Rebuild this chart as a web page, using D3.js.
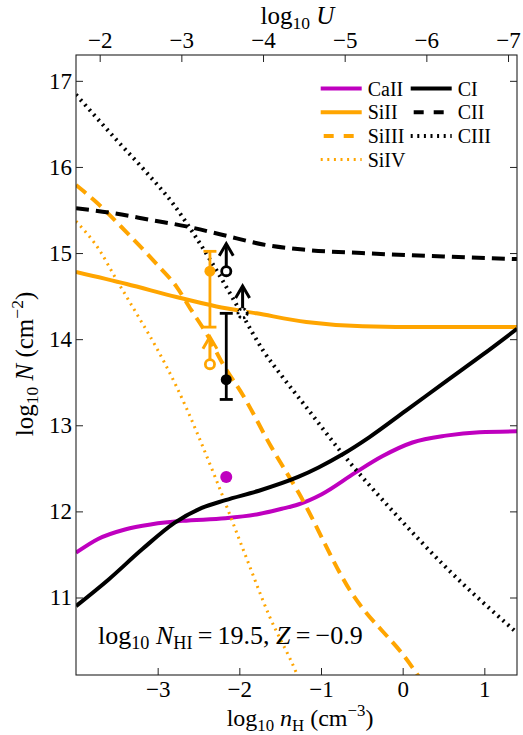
<!DOCTYPE html>
<html>
<head>
<meta charset="utf-8">
<script src="https://cdn.jsdelivr.net/npm/d3@7.9.0/dist/d3.min.js"></script>
<style>
  body { margin: 0; background: #fff; }
  svg text { font-family: "Liberation Serif", "DejaVu Serif", serif; fill: #000; white-space: pre; }
</style>
</head>
<body>
<svg id="chart" width="523" height="735"></svg>
<script>
// model columns, [log10 nH, log10 N]
const caII = [[-4.0, 11.52], [-3.73, 11.68], [-3.40, 11.79], [-3.07, 11.85], [-2.70, 11.89], [-2.17, 11.92],
  [-1.76, 11.97], [-1.48, 12.03], [-1.28, 12.08], [-0.99, 12.20], [-0.58, 12.45], [-0.25, 12.64],
  [0.12, 12.80], [0.53, 12.88], [0.94, 12.92], [1.4, 12.93]];
const siII = [[-4.0, 14.78], [-3.38, 14.64], [-2.77, 14.49], [-2.28, 14.38], [-1.79, 14.30], [-1.18, 14.20],
  [-0.49, 14.15], [0.32, 14.14], [1.4, 14.14]];
const siIII = [[-4.0, 15.79], [-3.75, 15.59], [-3.38, 15.24], [-3.02, 14.88], [-2.77, 14.61], [-2.59, 14.34],
  [-2.40, 14.06], [-2.20, 13.71], [-1.95, 13.34], [-1.61, 12.75], [-1.27, 12.21], [-0.65, 11.09],
  [0.08, 10.24], [0.22, 10.05]];
const siIV = [[-4.0, 15.37], [-3.71, 15.03], [-3.51, 14.70], [-3.26, 14.30], [-3.02, 13.91], [-2.77, 13.45],
  [-2.28, 12.36], [-1.95, 11.55], [-1.63, 10.78], [-1.30, 10.12], [-1.27, 10.05]];
const cI = [[-4.0, 10.90], [-3.60, 11.21], [-3.19, 11.56], [-2.79, 11.87], [-2.46, 12.04], [-2.17, 12.13],
  [-1.76, 12.24], [-1.28, 12.40], [-1.03, 12.51], [-0.74, 12.66], [-0.41, 12.86], [0.04, 13.17],
  [0.53, 13.51], [0.98, 13.82], [1.4, 14.12]];
const cII = [[-4.0, 15.52], [-3.59, 15.47], [-3.06, 15.38], [-2.65, 15.31], [-2.20, 15.21], [-1.71, 15.10],
  [-1.22, 15.04], [-0.5, 15.00], [0.5, 14.96], [1.4, 14.93]];
const cIII = [[-4.0, 16.84], [-3.50, 16.31], [-3.16, 15.96], [-2.81, 15.57], [-2.57, 15.24], [-2.28, 14.80],
  [-1.95, 14.26], [-1.71, 13.87], [-1.47, 13.56], [-1.18, 13.21], [-0.78, 12.72], [-0.09, 11.97],
  [0.53, 11.35], [1.4, 10.59]];

// legend columns
const legendCol1 = ['CaII', 'SiII', 'SiIII', 'SiIV'];
const legendCol2 = ['CI', 'CII', 'CIII'];

// measured columns (filled markers)
const detIon = ['SiII', 'CI', 'CaII'];
const detNH = [-2.36, -2.16, -2.16];
const detN = [14.79, 13.53, 12.40];
const detLo = [14.14, 13.30, null];
const detHi = [15.02, 14.30, null];

// lower limits (open markers + arrows)
const limIon = ['SiIII', 'CII', 'CIII'];
const limNH = [-2.36, -2.16, -1.96];
const limN = [13.71, 14.79, 14.30];

const xTicks = [-3, -2, -1, 0, 1];
const uTicks = [-2, -3, -4, -5, -6, -7];
const yTicks = [11, 12, 13, 14, 15, 16, 17];

const curves = { CaII: caII, SiII: siII, SiIII: siIII, SiIV: siIV, CI: cI, CII: cII, CIII: cIII };

const MAG = '#bf00bf', ORA = '#ffa500';
const ionStyle = {
  CaII: { color: MAG, dash: null, width: 4 },
  SiII: { color: ORA, dash: null, width: 4 },
  SiIII: { color: ORA, dash: '13,7', width: 4 },
  SiIV: { color: ORA, dash: '2,4.6', width: 3 },
  CI: { color: '#000', dash: null, width: 4 },
  CII: { color: '#000', dash: '13,7', width: 4 },
  CIII: { color: '#000', dash: '2,4.6', width: 4 },
};

const margin = { top: 55, right: 6, bottom: 60, left: 76 };
const W = 523 - margin.left - margin.right;  // 441
const H = 735 - margin.top - margin.bottom;  // 620

const svg = d3.select('#chart');
const g = svg.append('g').attr('transform', `translate(${margin.left},${margin.top})`);

const x = d3.scaleLinear().domain([-4, 1.4]).range([0, W]);
const xU = d3.scaleLinear().domain([-1.71, -7.11]).range([0, W]); // log U = -log nH - 5.71
const y = d3.scaleLinear().domain([10.1, 17.3]).range([H, 0]);

g.append('clipPath').attr('id', 'plotclip')
  .append('rect').attr('width', W).attr('height', H);

// curves
const line = d3.line().x(d => x(d[0])).y(d => y(d[1])).curve(d3.curveMonotoneX);
const curveG = g.append('g').attr('clip-path', 'url(#plotclip)');
Object.keys(curves).forEach(ion => {
  const s = ionStyle[ion];
  curveG.append('path')
    .datum(curves[ion])
    .attr('d', line)
    .attr('fill', 'none')
    .attr('stroke', s.color)
    .attr('stroke-width', s.width)
    .attr('stroke-dasharray', s.dash);
});

// detections with error bars
const capW = 6.5;
detIon.forEach((ion, i) => {
  const c = ionStyle[ion].color;
  const cx = x(detNH[i]);
  if (detLo[i] != null) {
    g.append('line').attr('x1', cx).attr('x2', cx)
      .attr('y1', y(detLo[i])).attr('y2', y(detHi[i]))
      .attr('stroke', c).attr('stroke-width', 2.8);
    [detLo[i], detHi[i]].forEach(v => {
      g.append('line').attr('x1', cx - capW).attr('x2', cx + capW)
        .attr('y1', y(v)).attr('y2', y(v))
        .attr('stroke', c).attr('stroke-width', 2.8);
    });
  }
  g.append('circle').attr('cx', cx).attr('cy', y(detN[i])).attr('r', ion === 'CaII' ? 6 : 5.5).attr('fill', c);
});

// lower limits
const arrowLen = 0.33;
limIon.forEach((ion, i) => {
  const c = ionStyle[ion].color;
  const cx = x(limNH[i]);
  const cy = y(limN[i]);
  const tip = y(limN[i] + arrowLen);
  g.append('line').attr('x1', cx).attr('x2', cx).attr('y1', cy - 5).attr('y2', tip + 1.5)
    .attr('stroke', c).attr('stroke-width', 3);
  g.append('path')
    .attr('d', `M${cx - 7},${tip + 13}L${cx},${tip + 1}L${cx + 7},${tip + 13}`)
    .attr('fill', 'none').attr('stroke', c).attr('stroke-width', 3)
    .attr('stroke-linejoin', 'miter');
  g.append('circle').attr('cx', cx).attr('cy', cy).attr('r', 4.6)
    .attr('fill', '#fff').attr('stroke', c).attr('stroke-width', 2.8)
    .attr('stroke-dasharray', ion === 'CIII' ? '2.2,2.2' : null);
});

// axes
const tickFont = 23;
const fmt = d3.format('d');

const axB = g.append('g').attr('transform', `translate(0,${H})`)
  .call(d3.axisBottom(x).tickValues(xTicks).tickSize(-7).tickPadding(6).tickFormat(fmt));
const axT = g.append('g')
  .call(d3.axisTop(xU).tickValues(uTicks).tickSize(-7).tickPadding(7).tickFormat(fmt));
const axL = g.append('g')
  .call(d3.axisLeft(y).tickValues(yTicks).tickSize(-7).tickPadding(4).tickFormat(fmt));
const axR = g.append('g').attr('transform', `translate(${W},0)`)
  .call(d3.axisRight(y).tickValues(yTicks).tickSize(-7).tickFormat(''));

[axB, axT, axL, axR].forEach(a => {
  a.select('.domain').remove();
  a.selectAll('.tick line').attr('stroke', '#222').attr('stroke-width', 1);
  a.selectAll('.tick text').attr('font-size', tickFont)
    .attr('font-family', '"Liberation Serif", serif').attr('fill', '#000');
});

g.append('rect').attr('width', W).attr('height', H)
  .attr('fill', 'none').attr('stroke', '#222').attr('stroke-width', 1.1);

// text helper for sub/superscripts
function rich(sel, parts, size) {
  let shift = 0;
  parts.forEach(p => {
    const target = p.sub ? size * 0.2 : p.sup ? -size * 0.4 : 0;
    const ts = sel.append('tspan').attr('dy', target - shift).text(p.t);
    shift = target;
    if (p.sub || p.sup) ts.attr('font-size', size * 0.7);
    if (p.it) ts.attr('font-style', 'italic');
  });
}

const labSize = 25;
rich(svg.append('text').attr('x', margin.left + W / 2 + 1).attr('y', 24)
  .attr('text-anchor', 'middle').attr('font-size', labSize),
  [{ t: 'log' }, { t: '10', sub: true }, { t: ' ' }, { t: 'U', it: true }], labSize);

rich(svg.append('text').attr('x', 300).attr('y', 726)
  .attr('text-anchor', 'middle').attr('font-size', 24),
  [{ t: 'log' }, { t: '10', sub: true }, { t: ' ' }, { t: 'n', it: true }, { t: 'H', sub: true },
   { t: ' (cm' }, { t: '\u22123', sup: true }, { t: ')' }], 24);

rich(svg.append('text').attr('transform', 'translate(33,364) rotate(-90)')
  .attr('text-anchor', 'middle').attr('font-size', labSize),
  [{ t: 'log' }, { t: '10', sub: true }, { t: ' ' }, { t: 'N', it: true },
   { t: ' (cm' }, { t: '\u22122', sup: true }, { t: ')' }], labSize);

rich(svg.append('text').attr('x', 98).attr('y', 644).attr('font-size', 26),
  [{ t: 'log' }, { t: '10', sub: true }, { t: ' ' }, { t: 'N', it: true }, { t: 'HI', sub: true },
   { t: '\u2009=\u200919.5, ' }, { t: 'Z', it: true }, { t: '\u2009=\u2009\u22120.9' }], 26);

// legend
const legSize = 20;
const legRowY = i => 88.5 + i * 23.7;
const legend = svg.append('g');
[[legendCol1, 320.7], [legendCol2, 410.7]].forEach(([names, lx]) => {
  names.forEach((ion, i) => {
    const s = ionStyle[ion];
    const ly = legRowY(i);
    legend.append('line').attr('x1', lx).attr('x2', lx + 41).attr('y1', ly).attr('y2', ly)
      .attr('stroke', s.color).attr('stroke-width', s.width)
      .attr('stroke-dasharray', s.dash === '13,7' ? '10,10' : s.dash)
      .attr('stroke-dashoffset', s.dash === '13,7' ? -3 : 0);
    legend.append('text').attr('x', lx + 47).attr('y', ly + 7)
      .attr('font-size', legSize).text(ion);
  });
});
</script>
</body>
</html>
